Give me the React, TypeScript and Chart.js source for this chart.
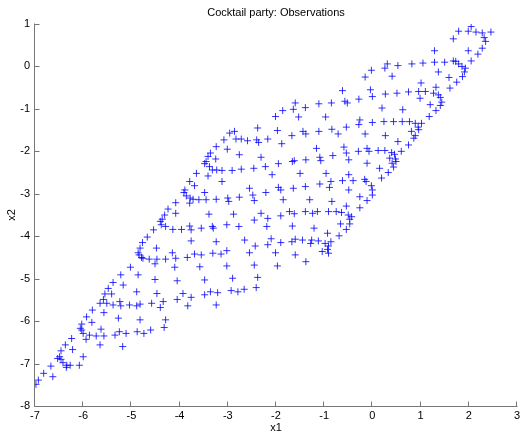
import React, { useEffect, useRef } from "react";
import { Chart, registerables } from "chart.js";

Chart.register(...registerables);

const TITLE = "Cocktail party: Observations";
const X_LABEL = "x1";
const Y_LABEL = "x2";
const X_TICKS = [-7, -6, -5, -4, -3, -2, -1, 0, 1, 2, 3];
const Y_TICKS = [-8, -7, -6, -5, -4, -3, -2, -1, 0, 1];

// Mixed signals: each pair is one observation (x1, x2).
const lowerLeft: [number, number][] = [
  [-4.77, -4.15], [-4.82, -4.28], [-4.48, -4.28], [-3.76, -4.11], [-4.86, -4.39], [-4.84, -4.44], [-4.79, -4.5], [-4.76, -4.52], [-4.63, -4.54], [-4.47, -4.54],
  [-4.29, -4.54], [-4.08, -4.52], [-3.84, -4.5], [-3.69, -4.42], [-3.55, -4.44], [-4.15, -4.39], [-4.51, -4.65], [-5.02, -4.73], [-4.1, -4.73], [-3.58, -4.72],
  [-5.22, -4.91], [-4.86, -4.91], [-4.51, -5.02], [-4.05, -5.05], [-3.48, -5.03], [-5.38, -5.09], [-5.17, -5.15], [-5.48, -5.23], [-4.89, -5.31], [-4.47, -5.35],
  [-3.93, -5.35], [-3.48, -5.38], [-3.76, -5.44], [-4.05, -5.49], [-5.55, -5.36], [-5.41, -5.36], [-5.58, -5.49], [-5.24, -5.54], [-4.34, -5.54], [-4.58, -5.58],
  [-4.82, -5.6], [-4.89, -5.64], [-5.04, -5.62], [-5.22, -5.64], [-5.38, -5.62], [-5.51, -5.58], [-5.65, -5.58], [-4.4, -5.68], [-3.83, -5.64], [-5.81, -5.74],
  [-5.57, -5.8], [-5.93, -5.9], [-5.27, -5.93], [-4.82, -5.97], [-4.29, -5.97], [-5.82, -6.03], [-6.03, -6.07], [-6.06, -6.17], [-5.63, -6.19], [-5.25, -6.25],
  [-5.11, -6.29], [-4.88, -6.25], [-4.74, -6.29], [-4.6, -6.21], [-4.32, -6.15], [-6.03, -6.21], [-6.0, -6.29], [-5.87, -6.33], [-5.73, -6.35], [-5.57, -6.35],
  [-5.34, -6.33], [-5.94, -6.43], [-6.24, -6.41], [-6.37, -6.56], [-6.46, -6.7], [-6.22, -6.67], [-5.65, -6.56], [-5.18, -6.6], [-6.0, -6.84], [-6.49, -6.84],
  [-6.53, -6.88], [-6.46, -6.9], [-6.42, -6.98], [-6.34, -7.04], [-6.27, -7.04], [-6.08, -7.04], [-6.35, -7.09], [-6.67, -7.06], [-6.82, -7.23], [-6.63, -7.31],
  [-6.98, -7.49], [-6.93, -7.39],
];

const middle: [number, number][] = [
  [-2.01, -1.18], [-1.86, -1.04], [-1.53, -1.19], [-2.38, -1.45], [-1.97, -1.51], [-2.96, -1.57], [-2.86, -1.53], [-1.44, -1.53], [-1.38, -1.59], [-1.67, -1.63],
  [-3.08, -1.73], [-2.83, -1.71], [-2.72, -1.71], [-2.59, -1.75], [-2.4, -1.73], [-2.36, -1.79], [-2.17, -1.71], [-1.88, -1.82], [-3.24, -1.89], [-3.01, -1.95],
  [-3.36, -2.04], [-2.76, -2.08], [-2.31, -2.14], [-3.41, -2.12], [-3.25, -2.18], [-3.45, -2.24], [-3.48, -2.29], [-3.38, -2.36], [-3.32, -2.44], [-3.23, -2.44],
  [-3.12, -2.45], [-2.91, -2.45], [-2.72, -2.42], [-2.46, -2.4], [-2.22, -2.36], [-1.95, -2.29], [-1.66, -2.24], [-1.62, -2.22], [-1.38, -2.2], [-3.65, -2.52],
  [-3.41, -2.58], [-3.12, -2.71], [-2.08, -2.55], [-1.5, -2.52], [-3.79, -2.71], [-3.69, -2.81], [-3.89, -2.91], [-3.91, -2.97], [-3.86, -3.05], [-3.78, -3.1],
  [-3.72, -3.13], [-3.6, -3.14], [-3.45, -3.14], [-3.24, -3.13], [-3.0, -3.1], [-2.76, -3.08], [-2.55, -2.87], [-2.48, -3.03], [-2.45, -3.16], [-2.21, -2.97],
  [-1.95, -2.85], [-1.9, -2.91], [-1.64, -2.87], [-1.39, -2.83], [-3.48, -2.97], [-2.98, -3.18], [-3.79, -3.22], [-1.85, -3.14], [-4.08, -3.21], [-4.24, -3.36],
  [-4.08, -3.46], [-4.31, -3.5], [-4.36, -3.6], [-4.4, -3.65], [-4.38, -3.73], [-4.29, -3.77], [-4.14, -3.84], [-3.96, -3.84], [-3.79, -3.76], [-3.76, -3.85],
  [-3.55, -3.81], [-3.32, -3.77], [-3.3, -3.81], [-3.02, -3.73], [-2.77, -3.77], [-2.88, -3.48], [-3.39, -3.48], [-2.45, -3.62], [-2.31, -3.46], [-2.17, -3.58],
  [-1.9, -3.52], [-1.72, -3.42], [-1.62, -3.47], [-1.39, -3.42], [-1.66, -3.76], [-2.19, -3.77], [-4.54, -3.85], [-4.67, -4.02], [-3.24, -4.13], [-2.65, -4.09],
  [-2.43, -4.23], [-2.1, -4.06], [-2.17, -4.2], [-1.9, -4.15], [-1.67, -4.13], [-1.6, -4.07], [-1.45, -4.09], [-3.02, -4.34], [-3.31, -4.4], [-3.14, -4.42],
  [-2.55, -4.39], [-2.01, -4.39], [-1.6, -4.44], [-3.02, -4.7], [-2.45, -4.68], [-1.97, -4.7], [-1.38, -4.6], [-2.9, -4.99], [-2.38, -4.97],
  [-2.41, -5.21], [-2.66, -5.25], [-2.79, -5.31], [-2.93, -5.28], [-3.21, -5.33], [-3.36, -5.31], [-3.24, -5.62],
  [-1.26, -4.09], [-1.28, -4.17], [-1.12, -4.11], [-0.98, -4.17], [-0.91, -4.23], [-0.86, -4.13], [-0.93, -4.31], [-1.04, -4.36], [-0.91, -4.4],
];

const upperRight: [number, number][] = [
  [0.31, 0.06], [0.53, 0.02], [0.82, 0.06], [1.05, 0.08], [0.26, -0.04], [-0.02, -0.09], [-0.15, -0.25], [0.41, -0.23], [1.01, -0.39], [-0.62, -0.57],
  [-0.04, -0.55], [0.0, -0.71], [0.27, -0.65], [0.51, -0.63], [0.75, -0.6], [0.96, -0.59], [1.1, -0.59], [0.99, -0.75], [-1.6, -0.86], [-1.11, -0.88],
  [-0.85, -0.86], [-0.57, -0.82], [-0.52, -0.86], [-0.28, -0.77], [-1.64, -1.01], [-1.39, -0.97], [0.2, -0.98], [0.63, -1.02],
  [-0.26, -1.26], [-0.28, -1.37], [0.0, -1.32], [0.24, -1.3], [0.44, -1.3], [0.62, -1.3], [0.77, -1.3], [0.89, -1.34], [1.02, -1.34], [0.95, -1.43],
  [0.96, -1.49], [-0.54, -1.43], [-0.84, -1.48], [-0.71, -1.59], [-0.15, -1.59], [0.27, -1.63], [0.81, -1.53], [0.89, -1.63], [0.86, -1.69], [0.53, -1.77],
  [0.75, -1.85], [-1.11, -1.53], [-0.97, -1.19], [-1.16, -1.93], [-0.59, -1.9], [-0.29, -2.0], [-0.54, -2.04], [-0.11, -1.93], [-0.07, -2.0], [0.12, -1.98],
  [0.26, -1.98], [0.4, -2.03], [0.46, -2.07], [0.6, -2.0], [0.36, -2.16], [0.48, -2.18], [0.49, -2.24], [0.41, -2.28], [0.44, -2.37], [0.33, -2.5],
  [0.15, -2.4], [0.19, -2.63], [-0.11, -2.28], [-0.49, -2.2], [-0.82, -2.1], [-1.09, -2.14], [-1.07, -2.22], [-0.96, -2.52], [-0.49, -2.55], [-0.62, -2.69],
  [-0.4, -2.69], [-0.16, -2.66], [-0.13, -2.71], [-0.02, -2.81], [0.0, -2.91], [0.0, -3.03], [-0.11, -3.16], [-0.26, -3.07], [-0.26, -3.33], [-0.49, -2.91],
  [-0.54, -3.29], [-0.86, -2.71], [-0.89, -2.85], [-1.09, -2.77], [-1.3, -3.14], [-0.84, -3.18], [-1.24, -3.46], [-1.14, -3.42], [-0.91, -3.42], [-0.75, -3.42],
  [-0.64, -3.44], [-0.5, -3.5], [-0.43, -3.54], [-0.47, -3.6], [-1.21, -3.81], [-0.66, -3.71], [-0.47, -3.71], [-0.54, -3.84], [-0.93, -3.93], [-0.69, -3.99],
  [2.05, 0.94], [1.79, 0.83], [1.99, 0.83], [2.15, 0.81], [2.28, 0.79], [2.46, 0.81], [1.68, 0.65], [2.32, 0.68], [2.35, 0.59], [2.28, 0.43],
  [1.29, 0.37], [1.99, 0.37], [2.19, 0.29], [2.05, 0.13], [1.29, 0.1], [1.5, 0.1], [1.68, 0.13], [1.73, 0.12], [1.79, 0.06], [1.86, 0.0],
  [1.93, -0.04], [1.91, -0.13], [1.87, -0.24], [1.37, -0.13], [1.59, -0.26], [1.75, -0.37], [1.61, -0.51], [1.32, -0.49], [1.27, -0.63], [1.37, -0.67],
  [1.41, -0.73], [1.44, -0.84], [1.41, -0.92], [1.2, -0.9], [1.32, -1.04], [1.18, -1.18],
];

const observations = [...lowerLeft, ...middle, ...upperRight];

const FONT = '"Liberation Sans", Arial, Helvetica, sans-serif';
const TEXT_COLOR = "#000";
const AXIS_COLOR = "#777";

// MATLAB-like axes: left/bottom lines with inward tick marks, plus title and labels.
const axesDecor = {
  id: "axesDecor",
  afterDraw(chart: any) {
    const { ctx, chartArea: a, scales } = chart;
    const xs = scales.x;
    const ys = scales.y;
    ctx.save();
    ctx.strokeStyle = AXIS_COLOR;
    ctx.lineWidth = 1;
    const lx = Math.round(a.left) - 0.5;
    const by = Math.round(a.bottom) + 0.5;
    ctx.beginPath();
    ctx.moveTo(lx, Math.round(a.top) - 0.5);
    ctx.lineTo(lx, by);
    ctx.lineTo(Math.round(a.right) + 0.5, by);
    for (const t of xs.ticks) {
      const px = Math.round(xs.getPixelForValue(t.value)) - 0.5;
      ctx.moveTo(px, by);
      ctx.lineTo(px, by - 5);
    }
    for (const t of ys.ticks) {
      const py = Math.round(ys.getPixelForValue(t.value)) + 0.5;
      ctx.moveTo(lx, py);
      ctx.lineTo(lx + 5, py);
    }
    ctx.stroke();

    ctx.fillStyle = TEXT_COLOR;
    ctx.font = `11px ${FONT}`;
    ctx.textAlign = "center";
    ctx.textBaseline = "middle";
    const cx = (a.left + a.right) / 2;
    ctx.fillText(TITLE, cx, 13);
    ctx.fillText(X_LABEL, cx, 428);
    ctx.translate(12, (a.top + a.bottom) / 2);
    ctx.rotate(-Math.PI / 2);
    ctx.fillText(Y_LABEL, 0, 0);
    ctx.restore();
  },
};

export default function App() {
  const canvasRef = useRef<HTMLCanvasElement | null>(null);

  useEffect(() => {
    const canvas = canvasRef.current;
    if (!canvas) return;
    const chart = new Chart(canvas, {
      type: "scatter",
      data: {
        datasets: [
          {
            data: observations.map(([x, y]) => ({ x, y })),
            pointStyle: "cross",
            pointRadius: 3.5,
            pointHoverRadius: 3.5,
            borderWidth: 1,
            borderColor: "rgba(0, 0, 255, 0.8)",
            backgroundColor: "rgba(0, 0, 255, 0.8)",
          },
        ],
      },
      options: {
        responsive: false,
        animation: false,
        devicePixelRatio: 1,
        events: [],
        layout: { padding: { top: 24, right: 4, bottom: 0, left: 0 } },
        plugins: {
          legend: { display: false },
          tooltip: { enabled: false },
          title: { display: false },
        },
        scales: {
          x: {
            type: "linear",
            min: -7,
            max: 3,
            afterBuildTicks: (s: any) => {
              s.ticks = X_TICKS.map((v) => ({ value: v }));
            },
            afterFit: (s: any) => {
              s.height = 29;
            },
            grid: { display: false, drawTicks: false },
            border: { display: false },
            ticks: {
              padding: 3,
              autoSkip: false,
              maxRotation: 0,
              color: TEXT_COLOR,
              font: { family: FONT, size: 11 },
            },
          },
          y: {
            type: "linear",
            min: -8,
            max: 1,
            afterBuildTicks: (s: any) => {
              s.ticks = Y_TICKS.map((v) => ({ value: v }));
            },
            afterFit: (s: any) => {
              s.width = 35;
            },
            grid: { display: false, drawTicks: false },
            border: { display: false },
            ticks: {
              padding: 5,
              autoSkip: false,
              color: TEXT_COLOR,
              font: { family: FONT, size: 11 },
            },
          },
        },
      },
      plugins: [axesDecor],
    });
    return () => chart.destroy();
  }, []);

  return (
    <div style={{ position: "fixed", left: 0, top: 0, width: 523, height: 435, background: "#fff" }}>
      <canvas ref={canvasRef} width={523} height={435} style={{ display: "block" }} />
    </div>
  );
}
